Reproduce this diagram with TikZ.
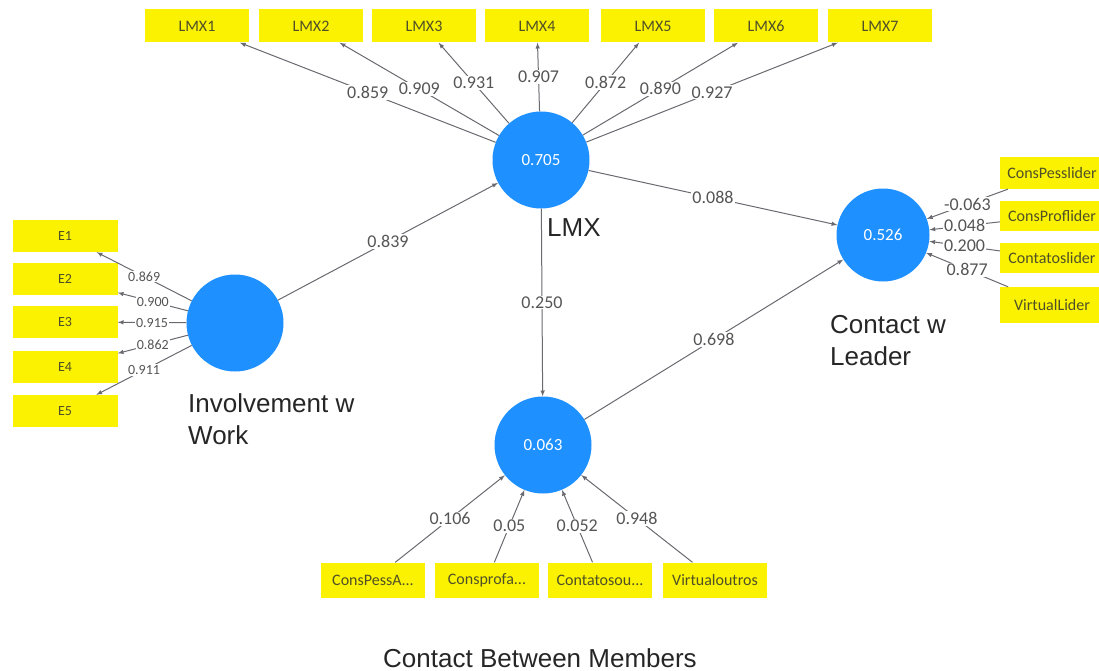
\documentclass[tikz,border=0pt]{standalone}
\usepackage{fontspec}
\setmainfont{Liberation Sans}
\newfontfamily\plsfont{Carlito}
\usetikzlibrary{arrows}
\definecolor{indyellow}{RGB}{250,242,0}
\definecolor{lvblue}{RGB}{30,144,255}
\definecolor{linegray}{RGB}{105,105,112}
\definecolor{coefgray}{RGB}{85,85,85}
\definecolor{indtext}{RGB}{80,80,40}
\tikzset{
  ind/.style={fill=indyellow, minimum width=104pt, minimum height=33pt, inner sep=0pt, text=indtext, font=\plsfont\fontsize{16}{16}\selectfont},
  lv/.style={circle, fill=lvblue, minimum size=97pt, inner sep=0pt, text=white, font=\plsfont\fontsize{17}{17}\selectfont},
  loadarrow/.style={draw=linegray, line width=1pt, -latex},
  coef/.style={fill=white, inner sep=1pt, text=coefgray, font=\plsfont\fontsize{18}{18}\selectfont},
  coefs/.style={coef, font=\plsfont\fontsize{14}{14}\selectfont},
  lvname/.style={anchor=north west, inner sep=0pt, align=left, font=\fontsize{26}{32}\selectfont, text=black!85}
}
\begin{document}
\begin{tikzpicture}[x=1pt,y=-1pt]
					\useasboundingbox (0,0) rectangle (1099,671);
					
					% latent variables
					\node[lv] (lmx) at (541,160) {0.705};
					\node[lv] (inv) at (235,323) {};
					\node[lv, minimum size=93pt] (lead) at (883,235) {0.526};
					\node[lv] (memb) at (543,445) {0.063};
					
					% LMX indicators
					\node[ind] (lmx1) at (197,26) {LMX1};
					\node[ind] (lmx2) at (311,26) {LMX2};
					\node[ind] (lmx3) at (424,26) {LMX3};
					\node[ind] (lmx4) at (537,26) {LMX4};
					\node[ind] (lmx5) at (653,26) {LMX5};
					\node[ind] (lmx6) at (766,26) {LMX6};
					\node[ind] (lmx7) at (880,26) {LMX7};
					
					% work indicators
					\node[ind, minimum width=105pt, minimum height=32pt, font=\plsfont\fontsize{14}{14}\selectfont] (e1) at (65,236) {E1};
					\node[ind, minimum width=105pt, minimum height=32pt, font=\plsfont\fontsize{14}{14}\selectfont] (e2) at (65,279) {E2};
					\node[ind, minimum width=105pt, minimum height=32pt, font=\plsfont\fontsize{14}{14}\selectfont] (e3) at (65,322) {E3};
					\node[ind, minimum width=105pt, minimum height=32pt, font=\plsfont\fontsize{14}{14}\selectfont] (e4) at (65,367) {E4};
					\node[ind, minimum width=105pt, minimum height=32pt, font=\plsfont\fontsize{14}{14}\selectfont] (e5) at (65,411) {E5};
					
					% leader indicators
					\node[ind, minimum height=32pt] (cl1) at (1052,173) {ConsPesslider};
					\node[ind, minimum height=30pt] (cl2) at (1052,216) {ConsProflider};
					\node[ind, minimum height=30pt] (cl3) at (1052,258) {Contatoslider};
					\node[ind, minimum height=36pt] (cl4) at (1052,305) {VirtualLider};
					
					% member indicators
					\node[ind, minimum height=35pt] (cm1) at (373,580) {ConsPessA...};
					\node[ind, minimum height=35pt] (cm2) at (487,580) {Consprofa...};
					\node[ind, minimum height=35pt] (cm3) at (600,580) {Contatosou...};
					\node[ind, minimum height=35pt] (cm4) at (715,580) {Virtualoutros};
					
					\draw[loadarrow] (lmx) -- node[coef]{0.859} (lmx1);
					\draw[loadarrow] (lmx) -- node[coef]{0.909} (lmx2);
					\draw[loadarrow] (lmx) -- node[coef]{0.931} (lmx3);
					\draw[loadarrow] (lmx) -- node[coef]{0.907} (lmx4);
					\draw[loadarrow] (lmx) -- node[coef]{0.872} (lmx5);
					\draw[loadarrow] (lmx) -- node[coef]{0.890} (lmx6);
					\draw[loadarrow] (lmx) -- node[coef]{0.927} (lmx7);
					
					\draw[loadarrow] (inv) -- node[coefs]{0.869} (e1);
					\draw[loadarrow] (inv) -- node[coefs]{0.900} (e2);
					\draw[loadarrow] (inv) -- node[coefs]{0.915} (e3);
					\draw[loadarrow] (inv) -- node[coefs]{0.862} (e4);
					\draw[loadarrow] (inv) -- node[coefs]{0.911} (e5);
					
					\draw[loadarrow] (cl1) -- node[coef]{-0.063} (lead);
					\draw[loadarrow] (cl2) -- node[coef]{0.048} (lead);
					\draw[loadarrow] (cl3) -- node[coef]{0.200} (lead);
					\draw[loadarrow] (cl4) -- node[coef]{0.877} (lead);
					
					\draw[loadarrow] (cm1) -- node[coef]{0.106} (memb);
					\draw[loadarrow] (cm2) -- node[coef]{0.05} (memb);
					\draw[loadarrow] (cm3) -- node[coef]{0.052} (memb);
					\draw[loadarrow] (cm4) -- node[coef]{0.948} (memb);
					
					% paths
					\draw[loadarrow] (inv) -- node[coef]{0.839} (lmx);
					\draw[loadarrow] (lmx) -- node[coef]{0.088} (lead);
					\draw[loadarrow] (lmx) -- node[coef]{0.250} (memb);
					\draw[loadarrow] (memb) -- node[coef]{0.698} (lead);
					
					\node[lvname] (lmxname) at (547,218) {LMX};
					\node[lvname] (invname) at (188,393) {Involvement w\\Work};
					\node[lvname] (leadname) at (830,315) {Contact w\\Leader};
					\node[lvname, anchor=north] (membname) at (540,648) {Contact Between Members};
				\end{tikzpicture}
\end{document}
